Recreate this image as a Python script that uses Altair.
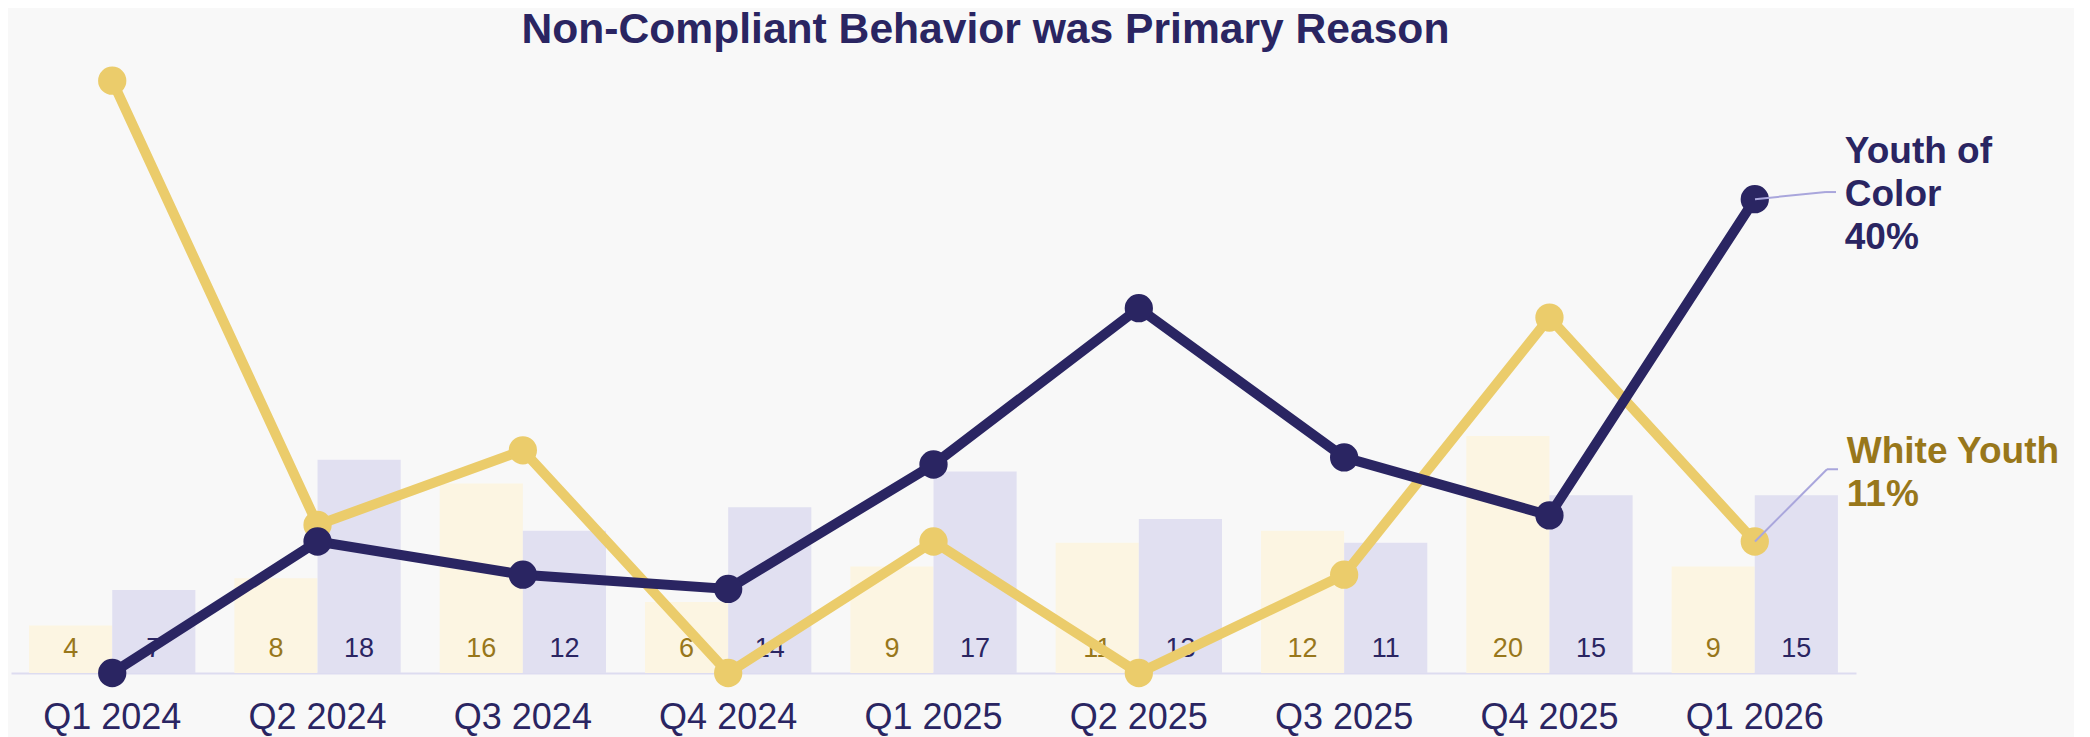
import altair as alt
import pandas as pd

quarters = ["Q1 2024", "Q2 2024", "Q3 2024", "Q4 2024", "Q1 2025",
            "Q2 2025", "Q3 2025", "Q4 2025", "Q1 2026"]
white_counts = [4, 8, 16, 6, 9, 11, 12, 20, 9]
yoc_counts = [7, 18, 12, 14, 17, 13, 11, 15, 15]
white_pct = [50.0, 12.5, 18.8, 0.0, 11.1, 0.0, 8.3, 30.0, 11.1]
yoc_pct = [0.0, 11.1, 8.3, 7.1, 17.6, 30.8, 18.2, 13.3, 40.0]
groups = ["White Youth", "Youth of Color"]

NAVY = "#2a2562"
GOLD = "#ebcc6b"
GOLD_TEXT = "#98771b"
LAV = "#e1e0f1"
CREAM = "#fcf5e2"
CONN = "#a9a6dc"

bars = pd.DataFrame({
    "quarter": quarters * 2,
    "group": [groups[0]] * 9 + [groups[1]] * 9,
    "count": white_counts + yoc_counts,
})
white_line = pd.DataFrame({"quarter": quarters, "pct": white_pct})
yoc_line = pd.DataFrame({"quarter": quarters, "pct": yoc_pct})

xs = alt.Scale(domain=quarters, paddingInner=0.19, paddingOuter=0.088)
ys = alt.Scale(domain=[0, 52], nice=False)
XAXIS = alt.Axis(title=None, labelAngle=0, ticks=False,
                 labelPadding=27, labelFontSize=36, labelColor=NAVY,
                 labelFont="Liberation Sans", domainColor="#dddcf0",
                 domainWidth=2, grid=False)
X = alt.X("quarter:N", scale=xs, axis=XAXIS)
XO = alt.XOffset("group:N", scale=alt.Scale(domain=groups))

bar_layer = alt.Chart(bars).mark_bar().encode(
    x=X,
    xOffset=XO,
    y=alt.Y("count:Q", scale=ys, axis=None),
    color=alt.Color("group:N", scale=alt.Scale(domain=groups, range=[CREAM, LAV]), legend=None),
)

def bar_text(group, color):
    return alt.Chart(bars).transform_filter(
        alt.datum.group == group
    ).transform_calculate(base="0").mark_text(
        fontSize=27, font="Liberation Sans", baseline="alphabetic", dy=-16,
        align="center", color=color
    ).encode(x=X, xOffset=XO, y=alt.Y("base:Q", scale=ys, axis=None), text="count:Q")

wt = bar_text(groups[0], GOLD_TEXT)
yt = bar_text(groups[1], NAVY)

def line_layers(df, color):
    ln = alt.Chart(df).mark_line(color=color, strokeWidth=10).encode(
        x=X, y=alt.Y("pct:Q", scale=ys, axis=None))
    pt = alt.Chart(df).mark_circle(color=color, size=800, opacity=1).encode(
        x=X, y=alt.Y("pct:Q", scale=ys, axis=None))
    return ln, pt

wl, wp = line_layers(white_line, GOLD)
yl, yp = line_layers(yoc_line, NAVY)

# leader lines from the last points to the end labels
conn = pd.DataFrame({
    "y1": [40.0, 40.6, 11.1, 17.2],
    "y2": [40.6, 40.6, 17.2, 17.2],
})
conn_x1 = [1744, 1815, 1744, 1816]
conn_x2 = [1815, 1825, 1816, 1827]
connectors = [
    alt.Chart(conn.iloc[[i]]).mark_rule(color=CONN, strokeWidth=2).encode(
        x=alt.value(conn_x1[i]), x2=alt.value(conn_x2[i]),
        y=alt.Y("y1:Q", scale=ys, axis=None), y2="y2:Q")
    for i in range(4)
]

yoc_label = alt.Chart(pd.DataFrame({"quarter": ["Q1 2026"], "pct": [yoc_pct[-1]],
                                    "label": ["Youth of\nColor\n40%"]})).mark_text(
    align="left", baseline="alphabetic", lineBreak="\n",
    fontSize=37, fontWeight="bold", font="Liberation Sans", lineHeight=43,
    color=NAVY, dx=90, dy=-36,
).encode(x=X, y=alt.Y("pct:Q", scale=ys, axis=None), text="label:N")

white_label = alt.Chart(pd.DataFrame({"quarter": ["Q1 2026"], "pct": [white_pct[-1]],
                                      "label": ["White Youth\n11%"]})).mark_text(
    align="left", baseline="alphabetic", lineBreak="\n",
    fontSize=37, fontWeight="bold", font="Liberation Sans", lineHeight=43,
    color=GOLD_TEXT, dx=92, dy=-79,
).encode(x=X, y=alt.Y("pct:Q", scale=ys, axis=None), text="label:N")

chart = alt.layer(
    bar_layer, wt, yt, wl, wp, yl, yp, *connectors, yoc_label, white_label
).properties(
    width=1845, height=616,
    title=alt.TitleParams(
        "Non-Compliant Behavior was Primary Reason", fontSize=42.6, fontWeight="bold",
        font="Liberation Sans", color=NAVY, anchor="middle", dx=52, offset=5),
    autosize=alt.AutoSizeParams(type="none"),
    padding={"left": 3, "top": 49, "right": 218, "bottom": 72},
    background="#f8f8f8",
).configure_view(stroke=None)

chart.save("out.html", embed_options={"renderer": "svg", "actions": False})
